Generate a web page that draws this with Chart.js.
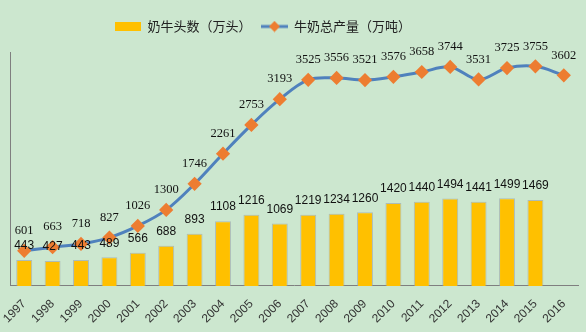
<!DOCTYPE html>
<html>
<head>
<meta charset="utf-8">
<script src="https://cdn.jsdelivr.net/npm/chart.js@4"></script>
<style>
  html, body { margin: 0; padding: 0; background: #cce7cf; }
  #wrap { width: 586px; height: 332px; }
</style>
</head>
<body>
<div id="wrap"><canvas id="dairyCanvas"></canvas></div>
<script>
const years = ["1997", "1998", "1999", "2000", "2001", "2002", "2003", "2004", "2005", "2006",
               "2007", "2008", "2009", "2010", "2011", "2012", "2013", "2014", "2015", "2016"];
// 奶牛头数（万头）- no bar for 2016
const cows = [443, 427, 443, 489, 566, 688, 893, 1108, 1216, 1069,
              1219, 1234, 1260, 1420, 1440, 1494, 1441, 1499, 1469, null];
// 牛奶总产量（万吨）
const milk = [601, 663, 718, 827, 1026, 1300, 1746, 2261, 2753, 3193,
              3525, 3556, 3521, 3576, 3658, 3744, 3531, 3725, 3755, 3602];

const barColor = "#ffc000";
const lineColor = "#4f81bd";
const markerColor = "#ed7d31";

// small images for the legend markers
function barIcon() {
    const c = document.createElement("canvas");
    c.width = 26; c.height = 9;
    const g = c.getContext("2d");
    g.fillStyle = barColor;
    g.fillRect(0, 0, 26, 9);
    return c;
}
function lineIcon() {
    const c = document.createElement("canvas");
    c.width = 27; c.height = 12;
    const g = c.getContext("2d");
    g.strokeStyle = lineColor;
    g.lineWidth = 3;
    g.beginPath(); g.moveTo(0, 6); g.lineTo(27, 6); g.stroke();
    g.fillStyle = markerColor;
    g.beginPath(); g.moveTo(13.5, 0.5); g.lineTo(19, 6); g.lineTo(13.5, 11.5); g.lineTo(8, 6); g.closePath(); g.fill();
    return c;
}

const valueLabels = {
    id: "valueLabels",
    afterDatasetsDraw(chart) {
        const ctx = chart.ctx;
        ctx.save();
        ctx.textAlign = "center";
        ctx.textBaseline = "middle";
        ctx.fillStyle = "#111";
        chart.data.datasets.forEach((ds, i) => {
            const meta = chart.getDatasetMeta(i);
            meta.data.forEach((el, j) => {
                const v = ds.data[j];
                if (v == null) return;
                if (ds.type === "line") {
                    ctx.font = "12.5px 'Liberation Serif'";
                    ctx.fillText(v, el.x, el.y - 20);
                } else {
                    ctx.font = "12px 'Liberation Sans'";
                    ctx.fillText(v, el.x, el.y - 14);
                }
            });
        });
        ctx.restore();
    }
};

// legend sits a bit left of centre in the original, with more room below it
const legendShift = {
    id: "legendShift",
    afterInit(chart) {
        const legend = chart.legend;
        const fit = legend.fit;
        legend.fit = function () { fit.call(this); this.height += 9; };
    },
    afterLayout(chart) {
        chart.legend.left -= 28;
        chart.legend.right -= 28;
    }
};

const dairyChart = new Chart(document.getElementById("dairyCanvas"), {
    type: "bar",
    data: {
        labels: years,
        datasets: [{
            type: "line",
            label: "牛奶总产量（万吨）",
            data: milk,
            borderColor: lineColor,
            borderWidth: 3,
            tension: 0.35,
            pointStyle: "rectRot",
            pointRadius: 5,
            pointBackgroundColor: markerColor,
            pointBorderColor: markerColor,
            order: 0
        }, {
            type: "bar",
            label: "奶牛头数（万头）",
            data: cows,
            backgroundColor: barColor,
            borderColor: "rgba(150,160,170,0.6)",
            borderWidth: 1,
            barPercentage: 0.56,
            categoryPercentage: 1,
            order: 1
        }]
    },
    options: {
        responsive: true,
        maintainAspectRatio: false,
        animation: false,
        layout: { padding: { left: 2, right: 6, top: 10, bottom: 3 } },
        plugins: {
            tooltip: { enabled: false },
            legend: {
                labels: {
                    usePointStyle: true,
                    pointStyleWidth: 26,
                    padding: 10,
                    color: "#222",
                    font: { family: "'Noto Sans CJK SC'", size: 13 },
                    generateLabels: () => [
                        { text: "奶牛头数（万头）", pointStyle: barIcon(), datasetIndex: 1, fontColor: "#222" },
                        { text: "牛奶总产量（万吨）", pointStyle: lineIcon(), datasetIndex: 0, fontColor: "#222" }
                    ]
                }
            }
        },
        scales: {
            x: {
                grid: { display: false },
                border: { color: "#7f7f7f" },
                ticks: {
                    maxRotation: 45,
                    minRotation: 45,
                    color: "#333",
                    font: { family: "'Liberation Sans'", size: 12 }
                }
            },
            y: {
                min: 0,
                max: 4000,
                grid: { display: false },
                border: { color: "#7f7f7f" },
                ticks: { display: false }
            }
        }
    },
    plugins: [valueLabels, legendShift]
});
</script>
</body>
</html>
